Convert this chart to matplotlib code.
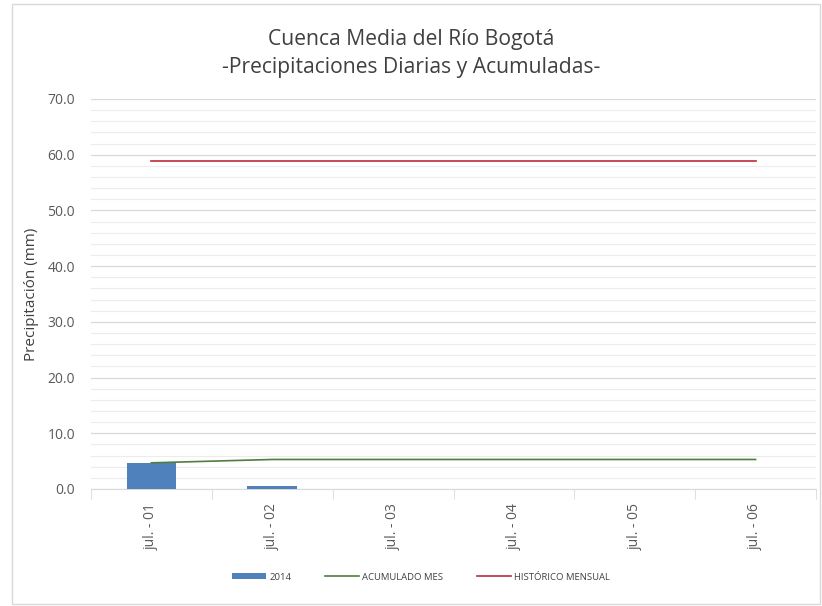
import matplotlib.pyplot as plt
import numpy as np
from matplotlib.patches import Rectangle
from matplotlib.ticker import MultipleLocator, FormatStrFormatter

plt.rcParams["font.family"] = ["Open Sans", "DejaVu Sans"]

days = ["jul. - 01", "jul. - 02", "jul. - 03", "jul. - 04", "jul. - 05", "jul. - 06"]
daily_2014 = [4.7, 0.6, 0.0, 0.0, 0.0, 0.0]
acumulado_mes = [4.7, 5.3, 5.3, 5.3, 5.3, 5.3]
historico_mensual = [58.9, 58.9, 58.9, 58.9, 58.9, 58.9]

fig = plt.figure(figsize=(8.22, 6.06), dpi=100)
fig.patches.append(Rectangle((12 / 822, 2 / 606), 808 / 822, 600 / 606, transform=fig.transFigure,
                             fill=False, edgecolor="#d9d9d9", linewidth=1.0))
ax = fig.add_axes([91 / 822, 1 - 489 / 606, 725 / 822, 390 / 606])

x = np.arange(len(days))
bars = ax.bar(x, daily_2014, width=0.41, color="#4f81bd", label="2014", zorder=3)
l1, = ax.plot(x, acumulado_mes, color="#4e7f3e", linewidth=1.2, label="ACUMULADO MES", zorder=4)
l2, = ax.plot(x, historico_mensual, color="#c0283a", linewidth=1.2, label="HISTÓRICO MENSUAL", zorder=4)

ax.set_xlim(-0.5, len(days) - 0.5)
ax.set_ylim(0, 70)
ax.yaxis.set_major_locator(MultipleLocator(10))
ax.yaxis.set_minor_locator(MultipleLocator(2))
ax.yaxis.set_major_formatter(FormatStrFormatter("%.1f"))
ax.grid(axis="y", which="major", color="#d9d9d9", linewidth=0.9, zorder=0)
ax.grid(axis="y", which="minor", color="#ececec", linewidth=0.8, zorder=0)
ax.tick_params(axis="y", which="both", length=0, labelsize=10, labelcolor="#595959", pad=11.5)

ax.set_xticks(x)
ax.set_xticklabels(days, rotation=90, fontsize=10, color="#595959")
ax.set_xticks(np.arange(-0.5, len(days)), minor=True)
ax.tick_params(axis="x", which="major", length=0, pad=10)
ax.tick_params(axis="x", which="minor", length=7, color="#d9d9d9")

for side in ["top", "right", "left"]:
    ax.spines[side].set_visible(False)
ax.spines["bottom"].set_color("#d9d9d9")

ax.set_ylabel("Precipitación (mm)", fontsize=11, color="#404040", labelpad=6)

fig.text(0.5, 1 - 40 / 606, "Cuenca Media del Río Bogotá", ha="center", va="center",
         fontsize=15.2, color="#404040")
fig.text(0.5, 1 - 68 / 606, "-Precipitaciones Diarias y Acumuladas-", ha="center", va="center",
         fontsize=15.2, color="#404040")

leg = fig.legend(handles=[bars, l1, l2], loc="center", bbox_to_anchor=(421 / 822, 1 - 577 / 606), ncol=3,
                 frameon=False, fontsize=6.8, handlelength=3.6, handleheight=0.5, handletextpad=0.3,
                 columnspacing=3.6, labelcolor="#404040", borderpad=0)

fig.savefig("out.png", dpi=100, facecolor="white")
